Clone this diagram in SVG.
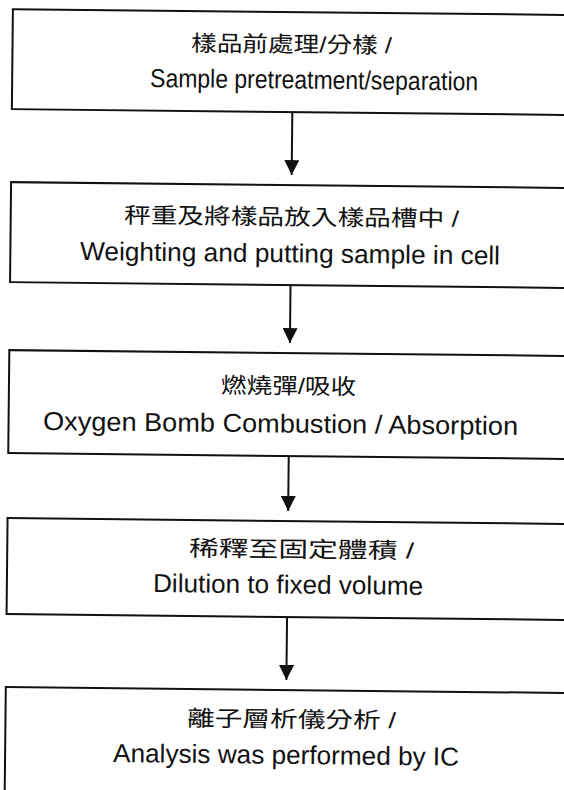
<svg xmlns="http://www.w3.org/2000/svg" width="564" height="790" viewBox="0 0 564 790">
<defs>
<style>
.box{fill:#fff;stroke:#111;stroke-width:2}
.cjk{font-family:"Liberation Sans","Noto Sans CJK TC",sans-serif;font-size:22px;fill:#111}
.en{font-family:"Liberation Sans",Arial,sans-serif;font-size:26px;fill:#111}
.conn{stroke:#111;stroke-width:2;fill:none}
</style>
<marker id="ah" markerUnits="userSpaceOnUse" markerWidth="15" markerHeight="15" refX="15" refY="7.5" orient="auto" viewBox="0 0 15 15">
<path d="M0,0 L15,7.5 L0,15 z" fill="#111"/>
</marker>
</defs>
<rect width="564" height="790" fill="#fff"/>
<g transform="rotate(0.6)">
<g id="n1">
<rect class="box" x="13" y="9" width="600" height="100"/>
<text class="cjk" x="191.5" y="49" textLength="201" lengthAdjust="spacingAndGlyphs">樣品前處理/分樣 /</text>
<text class="en" x="151" y="85.4" textLength="328" lengthAdjust="spacingAndGlyphs">Sample pretreatment/separation</text>
</g>
<g id="n2">
<rect class="box" x="13" y="182" width="600" height="100"/>
<text class="cjk" x="126.3" y="221.7" textLength="335" lengthAdjust="spacingAndGlyphs">秤重及將樣品放入樣品槽中 /</text>
<text class="en" x="82.7" y="259.2" textLength="420" lengthAdjust="spacingAndGlyphs">Weighting and putting sample in cell</text>
</g>
<g id="n3">
<rect class="box" x="13" y="350" width="600" height="103"/>
<text class="cjk" x="225.1" y="390.7" textLength="135" lengthAdjust="spacingAndGlyphs">燃燒彈/吸收</text>
<text class="en" x="47.5" y="429.5" textLength="475" lengthAdjust="spacingAndGlyphs">Oxygen Bomb Combustion / Absorption</text>
</g>
<g id="n4">
<rect class="box" x="13" y="518" width="600" height="96"/>
<text class="cjk" x="194.8" y="554" textLength="225" lengthAdjust="spacingAndGlyphs">稀釋至固定體積 /</text>
<text class="en" x="159.2" y="590.4" textLength="270" lengthAdjust="spacingAndGlyphs">Dilution to fixed volume</text>
</g>
<g id="n5">
<rect class="box" x="13" y="687" width="600" height="120"/>
<text class="cjk" x="194.6" y="724" textLength="209" lengthAdjust="spacingAndGlyphs">離子層析儀分析 /</text>
<text class="en" x="121" y="760.8" textLength="346" lengthAdjust="spacingAndGlyphs">Analysis was performed by IC</text>
</g>
<g id="connectors">
<line class="conn" x1="293.5" y1="109" x2="293.5" y2="172" marker-end="url(#ah)"/>
<line class="conn" x1="293.5" y1="282" x2="293.5" y2="340" marker-end="url(#ah)"/>
<line class="conn" x1="293.5" y1="453" x2="293.5" y2="508" marker-end="url(#ah)"/>
<line class="conn" x1="293.5" y1="614" x2="293.5" y2="677" marker-end="url(#ah)"/>
</g>
</g>
</svg>
